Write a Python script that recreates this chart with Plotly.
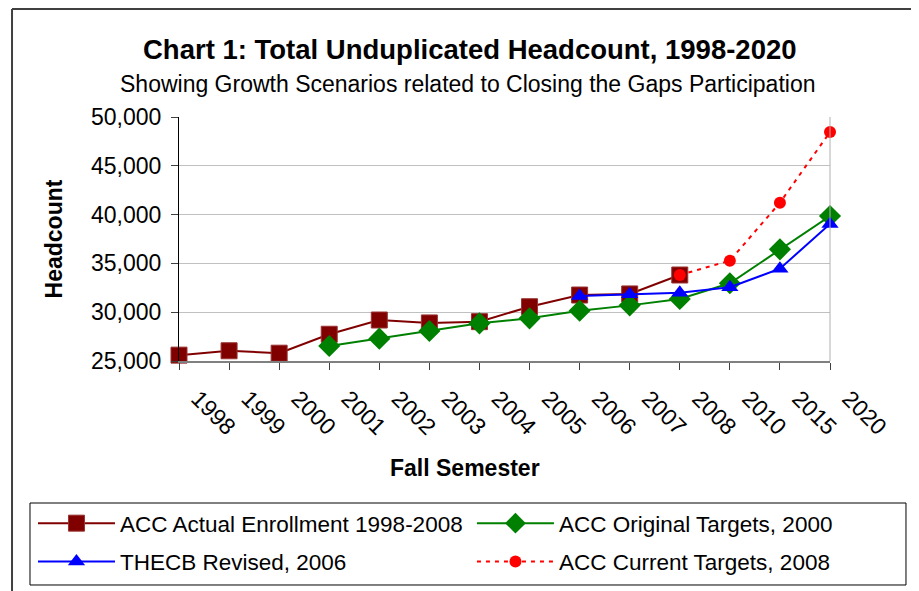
import plotly.graph_objects as go

# Fall semesters shown on the x axis
years = ["1998", "1999", "2000", "2001", "2002", "2003", "2004", "2005",
         "2006", "2007", "2008", "2010", "2015", "2020"]

# headcount series (None = no value that year)
actual = [25600, 26050, 25800, 27740, 29200, 28900, 29030, 30560,
          31760, 31870, 33810, None, None, None]
original = [None, None, None, 26540, 27290, 28070, 28860, 29370,
            30150, 30700, 31350, 32960, 36440, 39860]
thecb = [None, None, None, None, None, None, None, None,
         31660, 31830, 32000, 32550, 34460, 39040]
current = [None, None, None, None, None, None, None, None,
           None, None, 33810, 35280, 41220, 48460]

FONT = "Liberation Sans, Arial, sans-serif"

fig = go.Figure()

fig.add_trace(go.Scatter(
    x=years, y=actual, mode="lines+markers", cliponaxis=False,
    name="ACC Actual Enrollment 1998-2008",
    legend="legend", legendgroup="a",
    line=dict(color="#800000", width=2),
    marker=dict(symbol="square", size=16, color="#800000",
                line=dict(color="#993333", width=1))
))
fig.add_trace(go.Scatter(
    x=years, y=original, mode="lines+markers", cliponaxis=False,
    name="ACC Original Targets, 2000",
    legend="legend2", legendgroup="b",
    line=dict(color="#008000", width=2),
    marker=dict(symbol="diamond", size=17, color="#008000")
))
fig.add_trace(go.Scatter(
    x=years, y=thecb, mode="lines+markers", cliponaxis=False,
    name="THECB Revised, 2006",
    legend="legend", legendgroup="c",
    line=dict(color="#0000FF", width=2),
    marker=dict(symbol="triangle-up", size=15, color="#0000FF")
))
fig.add_trace(go.Scatter(
    x=years, y=current, mode="lines+markers", cliponaxis=False,
    name="ACC Current Targets, 2008",
    legend="legend2", legendgroup="d",
    line=dict(color="#FF0000", width=2, dash="4px,5px"),
    marker=dict(symbol="circle", size=12, color="#FF0000")
))

# two stacked legends -> two columns inside one box
leg = dict(orientation="v", y=-0.578, xanchor="left", yanchor="top",
           itemwidth=77, tracegroupgap=6, font=dict(size=22.5),
           bgcolor="rgba(0,0,0,0)", borderwidth=0)

fig.update_layout(
    width=919, height=591,
    # page body has an 8px margin, so the plot area is shifted up/left by 8
    margin=dict(l=171, r=97, t=109, b=238, autoexpand=False),
    paper_bgcolor="white", plot_bgcolor="white",
    font=dict(family=FONT, size=22, color="black"),
    showlegend=True,
    legend=dict(leg, x=-0.2243),
    legend2=dict(leg, x=0.4500),
    annotations=[
        dict(text="<b>Chart 1: Total Unduplicated Headcount, 1998-2020</b>",
             x=0.447, y=1.2746, xref="paper", yref="paper", yanchor="middle",
             showarrow=False, font=dict(size=27.5)),
        dict(text="Showing Growth Scenarios related to Closing the Gaps Participation",
             x=0.443, y=1.135, xref="paper", yref="paper", yanchor="middle",
             showarrow=False, font=dict(size=23)),
        dict(text="<b>Fall Semester</b>",
             x=0.4393, y=-0.4385, xref="paper", yref="paper", yanchor="middle",
             showarrow=False, font=dict(size=23)),
    ],
    shapes=[
        # outer chart frame (left and top edges visible)
        dict(type="line", xref="paper", yref="paper",
             x0=-0.2565, x1=-0.2565, y0=-1.0, y1=1.4426,
             line=dict(color="#404040", width=2)),
        dict(type="line", xref="paper", yref="paper",
             x0=-0.2565, x1=1.2, y0=1.4426, y1=1.4426,
             line=dict(color="#404040", width=2)),
        # right edge of plot area
        dict(type="line", xref="paper", yref="paper",
             x0=1, x1=1, y0=0, y1=1, line=dict(color="#B0B0B0", width=1)),
        # legend box
        dict(type="rect", xref="paper", yref="paper",
             x0=-0.2289, x1=1.1167, y0=-0.918, y1=-0.582,
             line=dict(color="black", width=1)),
    ],
)

fig.update_xaxes(
    type="category", range=[0, 13],
    showgrid=False, showline=True, linecolor="#808080", linewidth=2,
    ticks="outside", ticklen=7, tickcolor="#404040",
    tickangle=45, tickfont=dict(size=23),
    ticklabelshift=19, ticklabelstandoff=6,
)
fig.update_yaxes(
    range=[25000, 50000], dtick=5000, tickformat=",",
    showgrid=True, gridcolor="#C0C0C0", gridwidth=1,
    showline=True, linecolor="black", linewidth=1,
    ticks="outside", ticklen=7, tickcolor="#404040",
    tickfont=dict(size=23), ticklabelstandoff=5,
    title=dict(text="<b>Headcount</b>", font=dict(size=23), standoff=21),
    zeroline=False,
)

fig.write_html("out.html")
